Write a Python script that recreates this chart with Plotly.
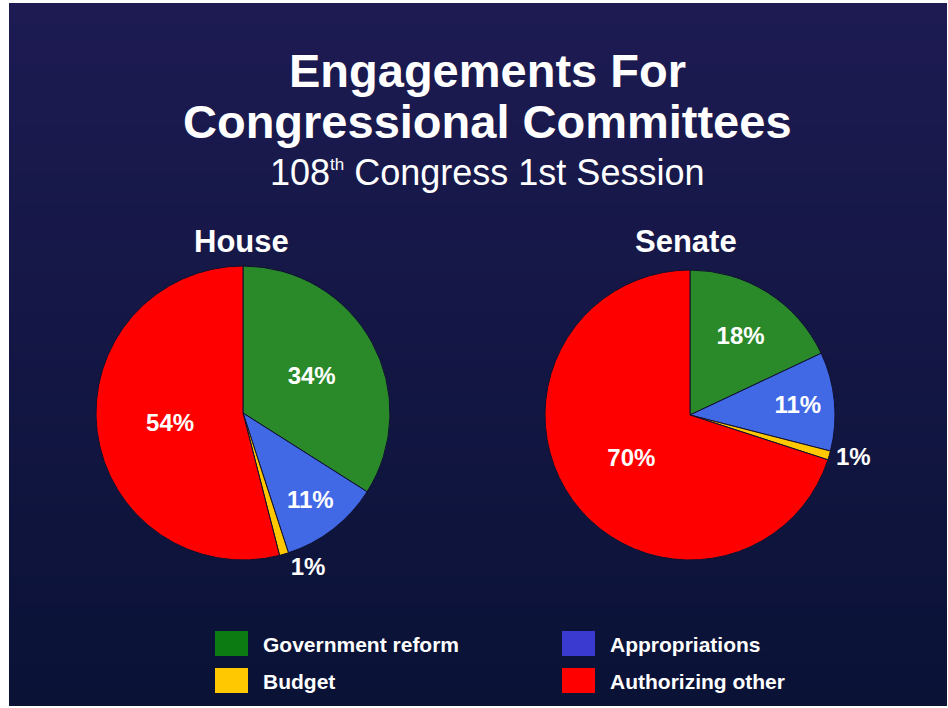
import plotly.graph_objects as go

# Committee categories in drawing order (clockwise from 12 o'clock)
categories = ["Government reform", "Appropriations", "Budget", "Authorizing other"]

# Share of engagements, percent
house_values = [34, 11, 1, 54]
senate_values = [18, 11, 1, 70]

slice_colors = ["#2a8a2a", "#4169e6", "#ffc800", "#ff0000"]
legend_colors = ["#0c7c12", "#3a3ad0", "#ffc800", "#ff0000"]
legend_order = ["Government reform", "Appropriations", "Budget", "Authorizing other"]

W, H = 948, 708

fig = go.Figure()

def add_pie(values, name, x0, x1, y0, y1, text_pos):
    fig.add_trace(go.Pie(
        labels=categories,
        values=values,
        name=name,
        sort=False,
        direction="clockwise",
        rotation=0,
        marker=dict(colors=slice_colors, line=dict(color="#101030", width=1)),
        texttemplate="%{value}%",
        textposition=text_pos,
        insidetextorientation="horizontal",
        textfont=dict(family="Liberation Sans", size=24, color="white", weight="bold"),
        domain=dict(x=[x0 / W, x1 / W], y=[1 - y1 / H, 1 - y0 / H]),
        showlegend=False,
        hoverinfo="label+percent",
    ))

add_pie(house_values, "House", 96, 390, 266, 560, ["inside", "inside", "outside", "inside"])
add_pie(senate_values, "Senate", 545, 835, 270, 560, ["inside", "inside", "outside", "inside"])

shapes = []
# white page edge with a dark navy gradient panel; each band runs to the
# panel bottom so the next one covers any seam
left, right, top, bottom = 9, 947, 3, 706
top_rgb = (29, 27, 82)
bot_rgb = (10, 18, 54)
bands = 70
for i in range(bands):
    t = i / (bands - 1)
    c = tuple(round(a + (b - a) * t) for a, b in zip(top_rgb, bot_rgb))
    ya = top + (bottom - top) * i / bands
    shapes.append(dict(type="rect", xref="paper", yref="paper", layer="below",
                       x0=left / W, x1=right / W, y0=1 - bottom / H, y1=1 - ya / H,
                       line=dict(width=0), fillcolor="rgb(%d,%d,%d)" % c))

annotations = []
def text(x, y, s, size, bold=True, anchor="center"):
    annotations.append(dict(x=x / W, y=1 - y / H, xref="paper", yref="paper", text=s,
                            showarrow=False, xanchor=anchor, yanchor="middle",
                            font=dict(family="Liberation Sans", size=size, color="white",
                                      weight="bold" if bold else "normal")))

text(487, 70, "Engagements For", 47)
text(487, 121, "Congressional Committees", 47)
text(487, 172, "108<sup><span style='font-size:17px'>th</span></sup> Congress 1st Session", 36, bold=False)
text(241, 241, "House", 31)
text(686, 241, "Senate", 31)

# legend grid (2 x 2)
col_x = [215, 562]
row_y = [643, 680]
for k, lab in enumerate(legend_order):
    col, row = k % 2, k // 2
    color = legend_colors[categories.index(lab)]
    x0 = col_x[col]
    yc = row_y[row]
    shapes.append(dict(type="rect", xref="paper", yref="paper", layer="above",
                       x0=x0 / W, x1=(x0 + 33) / W, y0=1 - (yc + 13) / H, y1=1 - (yc - 12) / H,
                       line=dict(width=0), fillcolor=color))
    text(x0 + 46, yc + 1, lab, 21, anchor="left")

fig.update_layout(
    width=W, height=H,
    margin=dict(l=0, r=0, t=0, b=0),
    paper_bgcolor="white",
    plot_bgcolor="white",
    shapes=shapes,
    annotations=annotations,
    uniformtext=dict(minsize=24, mode="show"),
)

fig.write_html("out.html")
